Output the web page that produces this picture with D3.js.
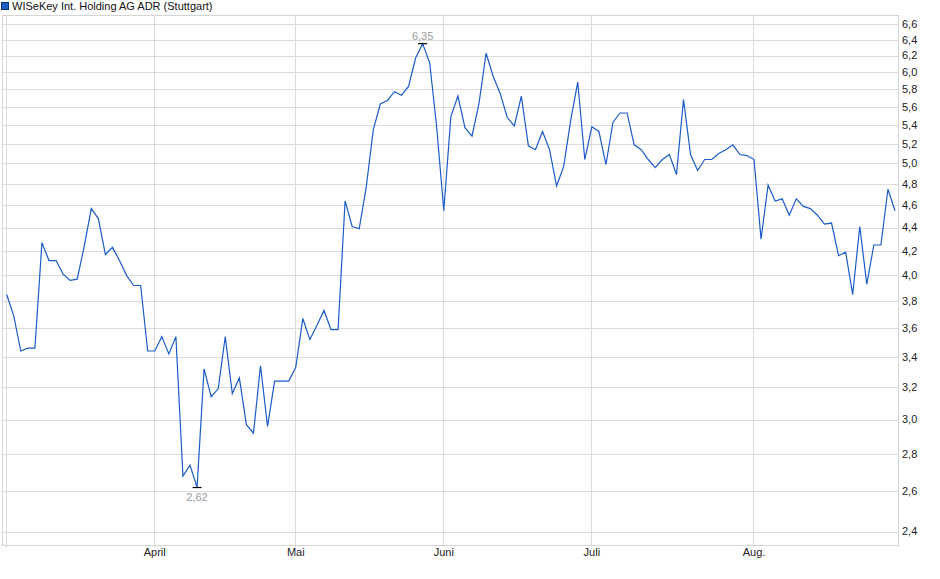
<!DOCTYPE html>
<html>
<head>
<meta charset="utf-8">
<script src="https://cdn.jsdelivr.net/npm/d3@7"></script>
<style>
  body { margin: 0; background: #fff; }
  svg { display: block; font-family: "Liberation Sans", Arial, sans-serif; }
</style>
</head>
<body>
<div id="chart"></div>
<script>
// Schlusskurse (Stuttgart), ein Wert pro Handelstag
var prices = [
  3.85, 3.69, 3.44, 3.46, 3.46, 4.27, 4.12, 4.12, 4.01, 3.96,
  3.97, 4.24, 4.57, 4.48, 4.17, 4.23, 4.12, 4.00, 3.92, 3.92,
  3.44, 3.44, 3.54, 3.42, 3.54, 2.68, 2.74, 2.62, 3.32, 3.14,
  3.19, 3.54, 3.16, 3.26, 2.97, 2.92, 3.34, 2.96, 3.24, 3.24,
  3.24, 3.33, 3.67, 3.52, 3.62, 3.73, 3.59, 3.59, 4.64, 4.41,
  4.39, 4.77, 5.35, 5.63, 5.67, 5.77, 5.73, 5.83, 6.17, 6.35,
  6.11, 5.37, 4.55, 5.49, 5.72, 5.37, 5.28, 5.64, 6.23, 5.95,
  5.75, 5.48, 5.39, 5.72, 5.18, 5.14, 5.33, 5.14, 4.78, 4.97,
  5.45, 5.88, 5.04, 5.38, 5.33, 4.99, 5.43, 5.53, 5.53, 5.19,
  5.14, 5.04, 4.96, 5.04, 5.09, 4.89, 5.68, 5.09, 4.93, 5.04,
  5.04, 5.10, 5.14, 5.19, 5.09, 5.08, 5.04, 4.30, 4.79, 4.64,
  4.66, 4.51, 4.66, 4.59, 4.57, 4.51, 4.43, 4.44, 4.16, 4.19,
  3.85, 4.41, 3.93, 4.25, 4.25, 4.75, 4.55
];

// erster Handelstag jedes Monats (Index in prices)
var monthLabels = ['April', 'Mai', 'Juni', 'Juli', 'Aug.'];
var monthIndex = [21, 41, 62, 83, 106];

var yTicks = [2.4, 2.6, 2.8, 3.0, 3.2, 3.4, 3.6, 3.8, 4.0, 4.2, 4.4, 4.6, 4.8, 5.0, 5.2, 5.4, 5.6, 5.8, 6.0, 6.2, 6.4, 6.6];

var seriesName = 'WISeKey Int. Holding AG ADR (Stuttgart)';

var width = 940,
    height = 579,
    frame = { left: 2.5, right: 898.5, top: 15.5, bottom: 545.5 },
    lineColor = '#1c5cc8',
    gridColor = '#dcdcdc';

var de = d3.formatLocale({ decimal: ',', thousands: '.', grouping: [3], currency: ['', ' €'] }),
    fmt = de.format('.1f'),
    fmt2 = de.format('.2f');

var x = d3.scaleLinear()
          .domain([0, prices.length - 1])
          .range([6.7, 895]);

var y = d3.scaleLog()
          .domain([2.4, 6.6])
          .range([531.5, 24.3]);

var svg = d3.select('#chart').append('svg')
            .attr('width', width)
            .attr('height', height);

// legend
svg.append('rect')
   .attr('x', 1.5).attr('y', 2.5)
   .attr('width', 7).attr('height', 7)
   .attr('fill', '#1f5fc4')
   .attr('stroke', '#0d2f6e');

svg.append('text')
   .attr('x', 12).attr('y', 10)
   .attr('font-size', 11)
   .attr('fill', '#111')
   .text(seriesName);

// horizontal grid + labels
var yAxis = svg.append('g').attr('class', 'y-axis');

yAxis.selectAll('line')
     .data(yTicks)
     .enter().append('line')
     .attr('x1', frame.left).attr('x2', frame.right)
     .attr('y1', function (d) { return Math.round(y(d)) + 0.5; })
     .attr('y2', function (d) { return Math.round(y(d)) + 0.5; })
     .attr('stroke', gridColor);

yAxis.selectAll('text')
     .data(yTicks)
     .enter().append('text')
     .attr('x', 902)
     .attr('y', function (d) { return y(d); })
     .attr('dy', '0.35em')
     .attr('font-size', 11)
     .attr('fill', '#222')
     .text(function (d) { return fmt(d); });

// vertical grid at month starts (plus the first day)
var xAxis = svg.append('g').attr('class', 'x-axis');

xAxis.selectAll('line')
     .data([0].concat(monthIndex))
     .enter().append('line')
     .attr('x1', function (d) { return Math.round(x(d)) - 0.5; })
     .attr('x2', function (d) { return Math.round(x(d)) - 0.5; })
     .attr('y1', frame.top)
     .attr('y2', frame.bottom + 2)
     .attr('stroke', gridColor);

xAxis.selectAll('text')
     .data(monthIndex)
     .enter().append('text')
     .attr('x', function (d) { return x(d); })
     .attr('y', 556)
     .attr('text-anchor', 'middle')
     .attr('font-size', 11)
     .attr('fill', '#222')
     .text(function (d, i) { return monthLabels[i]; });

// frame
svg.append('rect')
   .attr('x', frame.left).attr('y', frame.top)
   .attr('width', frame.right - frame.left)
   .attr('height', frame.bottom - frame.top)
   .attr('fill', 'none')
   .attr('stroke', '#d4d4d4');

// price line
var line = d3.line()
             .x(function (d, i) { return x(i); })
             .y(function (d) { return y(d); });

svg.append('path')
   .datum(prices)
   .attr('d', line)
   .attr('fill', 'none')
   .attr('stroke', lineColor)
   .attr('stroke-width', 1.2)
   .attr('stroke-linejoin', 'miter');

// high / low markers
function _marker(index, above) {
  var px = x(index),
      py = y(prices[index]);

  svg.append('line')
     .attr('x1', px - 4.5).attr('x2', px + 4.5)
     .attr('y1', py).attr('y2', py)
     .attr('stroke', '#000')
     .attr('stroke-width', 1.2);

  svg.append('text')
     .attr('x', px)
     .attr('y', above ? py - 8 : py + 10)
     .attr('dy', '0.35em')
     .attr('text-anchor', 'middle')
     .attr('font-size', 11)
     .attr('fill', '#9a9a9a')
     .text(fmt2(prices[index]));
}

_marker(d3.maxIndex(prices), true);
_marker(d3.minIndex(prices), false);
</script>
</body>
</html>
